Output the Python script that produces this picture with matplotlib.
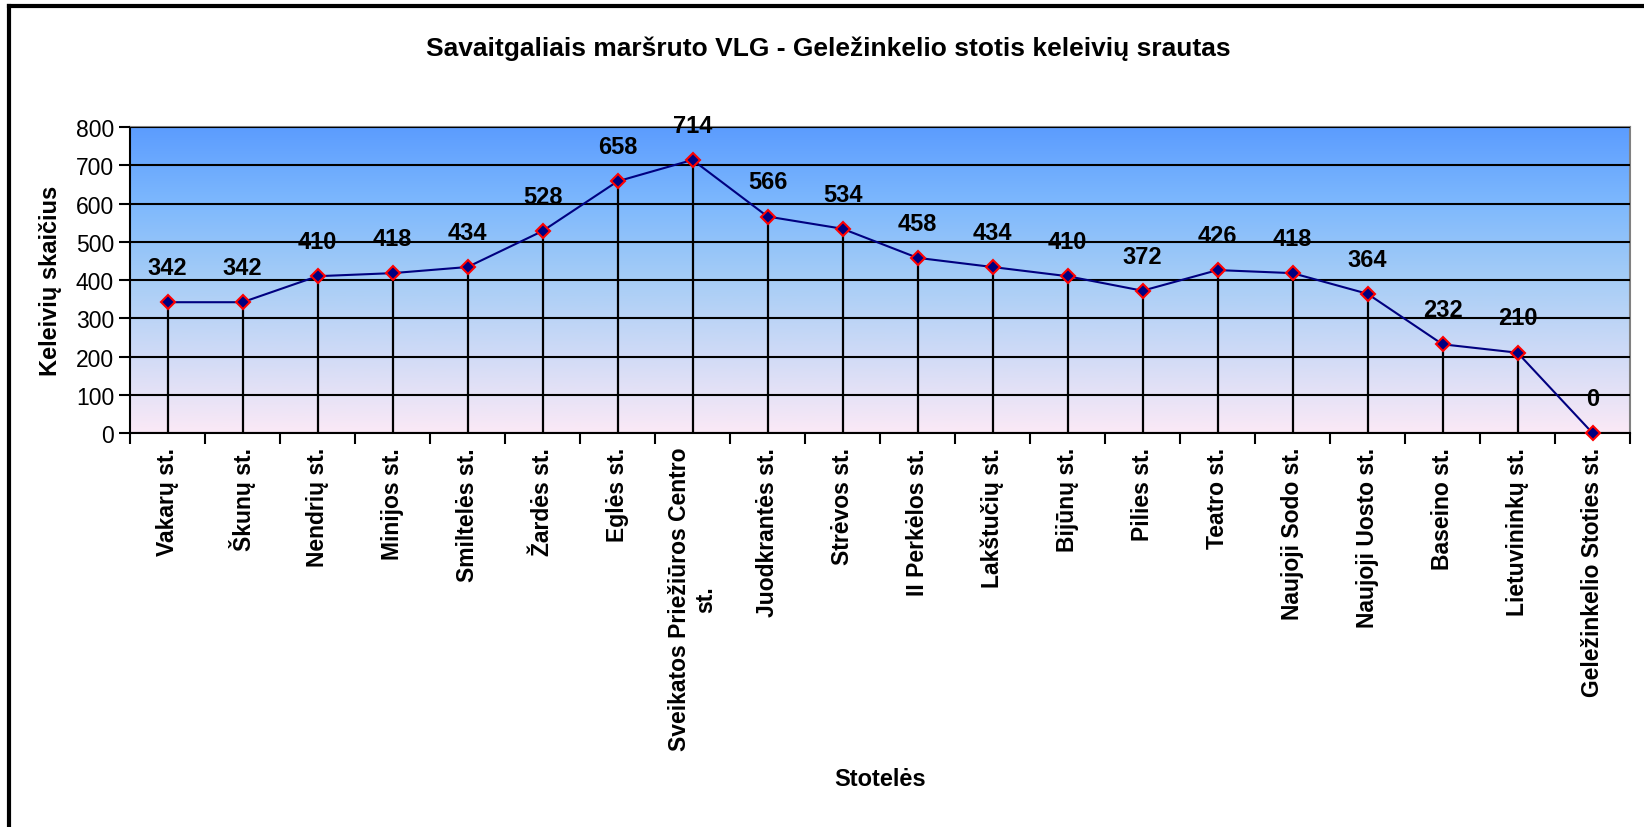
import numpy as np
import matplotlib
matplotlib.use("Agg")
import matplotlib.pyplot as plt
from matplotlib.colors import LinearSegmentedColormap

plt.rcParams['font.family'] = ['Liberation Sans', 'DejaVu Sans']

stops = ['Vakarų st.', 'Škunų st.', 'Nendrių st.', 'Minijos st.', 'Smiltelės st.',
         'Žardės st.', 'Eglės st.', 'Sveikatos Priežiūros Centro\nst.', 'Juodkrantės st.',
         'Strėvos st.', 'II Perkėlos st.', 'Lakštučių st.', 'Bijūnų st.', 'Pilies st.',
         'Teatro st.', 'Naujoji Sodo st.', 'Naujoji Uosto st.', 'Baseino st.',
         'Lietuvininkų st.', 'Geležinkelio Stoties st.']
passengers = [342, 342, 410, 418, 434, 528, 658, 714, 566, 534, 458, 434, 410, 372,
              426, 418, 364, 232, 210, 0]
yticks = [0, 100, 200, 300, 400, 500, 600, 700, 800]

fig = plt.figure(figsize=(16.44, 8.28), dpi=100)
ax = fig.add_axes([0.0791, 0.4758, 0.9124, 0.3696])

n = len(stops)
x = np.arange(n)

# gradient background
cmap = LinearSegmentedColormap.from_list('bg', [(0.0, '#fbe9f6'), (0.5, '#a6cdf6'),
                                                (0.75, '#7db8fd'), (1.0, '#5b9cff')])
grad = np.linspace(0, 1, 256).reshape(-1, 1)
ax.imshow(grad, aspect='auto', cmap=cmap, origin='lower',
          extent=[-0.5, n - 0.5, 0, 800], zorder=0)

ax.set_xlim(-0.5, n - 0.5)
ax.set_ylim(0, 800)
ax.set_yticks(yticks)
ax.set_yticklabels([str(v) for v in yticks], fontsize=16.5)
ax.yaxis.grid(True, color='black', linewidth=1.5, zorder=1)
ax.set_axisbelow(False)

# drop lines
ax.vlines(x, 0, passengers, color='black', linewidth=1.6, zorder=2)
ax.plot(x, passengers, color='#000080', linewidth=1.5, marker='D', markersize=7,
        markerfacecolor='#000080', markeredgecolor='red', markeredgewidth=1.5,
        zorder=4, clip_on=False)

for xi, v in zip(x, passengers):
    ax.annotate(str(v), (xi, v), xytext=(0, 25), textcoords='offset points',
                ha='center', va='center', fontsize=17, fontweight='bold', zorder=5)

ax.set_xticks(x)
ax.set_xticklabels(stops, rotation=90, fontsize=16.5, fontweight='bold',
                   ha='center', va='top', multialignment='center')
ax.tick_params(axis='x', length=0, pad=10)
ax.set_xticks(np.arange(-0.5, n, 1), minor=True)
ax.tick_params(axis='x', which='minor', length=8, width=1.5, direction='out')
ax.tick_params(axis='y', length=8, width=1.5, direction='out')

for s in ax.spines.values():
    s.set_linewidth(1.5)
ax.spines['top'].set_color('#808080')
ax.spines['right'].set_color('#808080')

ax.set_ylabel('Keleivių skaičius', fontsize=17, fontweight='bold', labelpad=10)
fig.text(0.5 * (0.0791 + 0.9915), 1 - 780 / 828, 'Stotelės', ha='center', va='center',
         fontsize=17, fontweight='bold')
fig.text(0.5036, 1 - 49 / 828,
         'Savaitgaliais maršruto VLG - Geležinkelio stotis keleivių srautas',
         ha='center', va='center', fontsize=19, fontweight='bold')

# chart frame
fig.add_artist(plt.Line2D([9 / 1644, 9 / 1644], [0, 1 - 7 / 828],
                          transform=fig.transFigure, color='black', linewidth=3))
fig.add_artist(plt.Line2D([9 / 1644, 1], [1 - 7 / 828, 1 - 7 / 828],
                          transform=fig.transFigure, color='black', linewidth=3))

fig.savefig('out.png', dpi=100)
